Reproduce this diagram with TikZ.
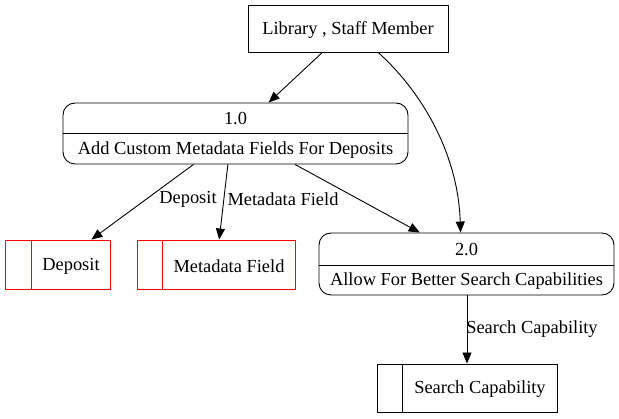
\documentclass[tikz,border=0pt]{standalone}
\usepackage{fontspec}
\setmainfont{Liberation Serif}
\usetikzlibrary{arrows.meta,calc}
\begin{document}
\begin{tikzpicture}[x=1pt,y=-1pt,
  every node/.style={font=\fontsize{18.4}{22}\selectfont, inner sep=0pt},
  ent/.style={draw, line width=0.9pt, minimum width=200pt, minimum height=47pt},
  proc/.style={draw, line width=0.9pt, rounded corners=12pt},
  store/.style={draw, line width=0.9pt, minimum height=49pt},
  flow/.style={line width=0.9pt, -{Triangle[length=11pt,width=9pt]}}]
\useasboundingbox (0,0) rectangle (619,419);

% external entity
\node[ent] (lib) at (348,28.5) {};
\node (libtxt) at (348,30) {Library , Staff Member};

% process 1.0
\node[proc, minimum width=345pt, minimum height=61pt] (p1) at (235.5,133.5) {};
\draw[line width=0.9pt] (p1.west) -- (p1.east);
\node (p1num) at (235.5,119) {1.0};
\node (p1txt) at (235.5,150) {Add Custom Metadata Fields For Deposits};

% process 2.0
\node[proc, minimum width=295pt, minimum height=62pt] (p2) at (466.5,264) {};
\draw[line width=0.9pt] ($(p2.west)+(0,1)$) -- ($(p2.east)+(0,1)$);
\node (p2num) at (466.5,250) {2.0};
\node (p2txt) at (466.5,281) {Allow For Better Search Capabilities};

% data stores
\node[store, red, minimum width=105pt] (dep) at (57.5,264.5) {};
\draw[red, line width=0.9pt] ($(dep.north west)+(27,0)$) -- ($(dep.south west)+(27,0)$);
\node (deptxt) at (71,266) {Deposit};

\node[store, red, minimum width=158pt] (meta) at (216,264.5) {};
\draw[red, line width=0.9pt] ($(meta.north west)+(26,0)$) -- ($(meta.south west)+(26,0)$);
\node (metatxt) at (229,266) {Metadata Field};

\node[store, minimum width=180pt, minimum height=48pt] (sc) at (467,388) {};
\draw[line width=0.9pt] ($(sc.north west)+(26,0)$) -- ($(sc.south west)+(26,0)$);
\node (sctxt) at (480,389.5) {Search Capability};

% flows
\draw[flow] (lib) -- (p1);
\draw[flow] ($(lib.south west)!0.65!(lib.south east)$) .. controls (418,88) and (458,150) .. ($(p2.north west)!0.48!(p2.north east)$);
\draw[flow] (p1) -- (dep);
\draw[flow] ($(p1.south west)!0.478!(p1.south east)$) -- ($(meta.north west)!0.52!(meta.north east)$);
\draw[flow] ($(p1.south west)!0.672!(p1.south east)$) -- ($(p2.north west)!0.342!(p2.north east)$);
\draw[flow] (p2.south -| sc.north) -- (sc.north);

% labels
\node (l1) at (188,199) {Deposit};
\node (l2) at (283,199) {Metadata Field};
\node (l3) at (532,329) {Search Capability};
\end{tikzpicture}
\end{document}
